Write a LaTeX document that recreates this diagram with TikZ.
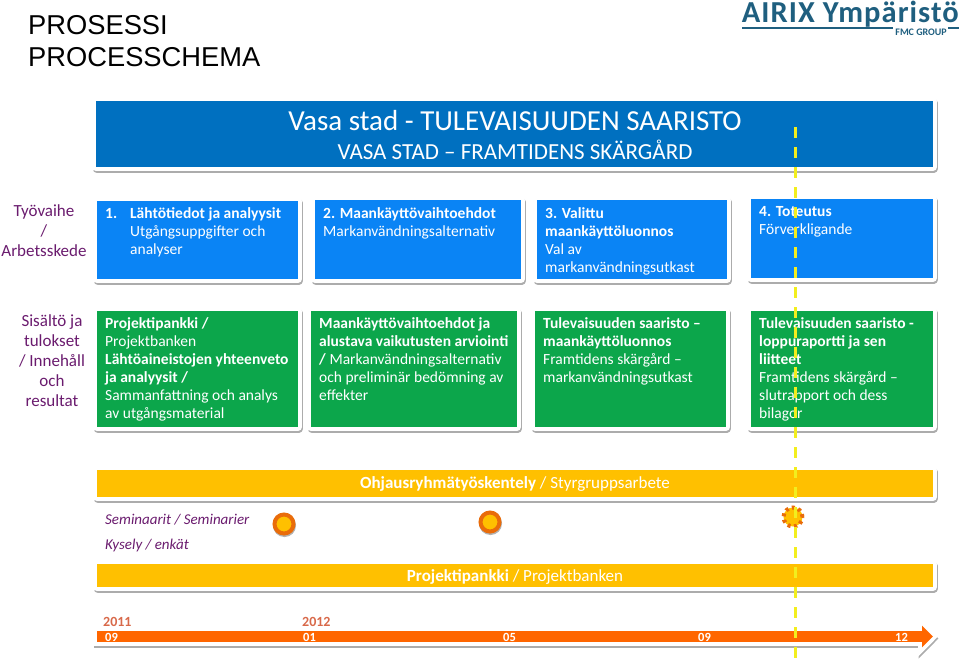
\documentclass[tikz,border=0pt]{standalone}
\usepackage{xcolor}
\usepackage{fontspec}
\setmainfont{Carlito}
\newfontfamily\headfont{Liberation Sans}
\usetikzlibrary{positioning, arrows.meta}
\definecolor{barblue}{HTML}{0070C0}
\definecolor{stepblue}{HTML}{0A84F5}
\definecolor{stepgreen}{HTML}{0CA64B}
\definecolor{baramber}{HTML}{FFC000}
\definecolor{timeorange}{HTML}{FF6600}
\definecolor{ringorange}{HTML}{E96C0A}
\definecolor{leftpurple}{HTML}{6A1B6E}
\definecolor{yearred}{HTML}{D8694A}
\definecolor{logoblue}{HTML}{1F5F7F}
\definecolor{nowyellow}{HTML}{F2EE1E}
\tikzset{x=1pt, y=-1pt,
         card/.style={fill=#1, anchor=north west, inner sep=0pt, outer sep=0pt,
                      preaction={draw=gray!65, line width=8pt, line join=round, transform canvas={shift={(.5pt,-2pt)}}},
                      preaction={draw=white, line width=8pt, line join=round}},
         cardtext/.style={anchor=north west, text=white, align=left, inner sep=0pt,
                      font=\fontsize{15.5}{18}\selectfont},
         sidetext/.style={text=leftpurple, align=center, font=\fontsize{17}{20}\selectfont},
         bartext/.style={text=white, font=\fontsize{17}{18}\selectfont},
         monthtext/.style={text=white, anchor=west, inner sep=0pt, font=\bfseries\fontsize{12.5}{12}\selectfont},
         yeartext/.style={text=yearred, anchor=west, inner sep=0pt, font=\bfseries\fontsize{14}{13}\selectfont},
         eventtext/.style={text=leftpurple, anchor=west, inner sep=0pt, font=\itshape\fontsize{15}{14}\selectfont},
         ring/.style={circle, draw=ringorange, fill=baramber, line width=4pt, minimum size=19pt, inner sep=0pt},
         ringshadow/.style={preaction={draw=gray!60, transform canvas={shift={(.5pt,-1.5pt)}}}},
         }
\begin{document}
\begin{tikzpicture}
    \useasboundingbox (0,0) rectangle (960,662);

    % otsikko
    \node[anchor=west, inner sep=0pt, align=left, font=\headfont\fontsize{27.3}{32}\selectfont] (title) at (28,41) {PROSESSI\\PROCESSCHEMA};

    % logo
    \node[anchor=east, inner sep=0pt, text=logoblue, font=\bfseries\fontsize{30.5}{30}\selectfont\addfontfeatures{LetterSpace=3.5}] (logo) at (959,14) {AIRIX Ympäristö};
    \node[anchor=east, inner sep=0pt, text=logoblue, font=\bfseries\fontsize{10}{10}\selectfont] (logosub) at (947,32) {FMC GROUP};
    \coordinate (logoa) at (742,28);
    \coordinate (logob) at (867,28);
    \coordinate (logoc) at (893,28);
    \coordinate (logod) at (948,28);
    \coordinate (logoe) at (959,28);
    \draw[logoblue, line width=2.5pt] (logoa) -- (logob);
    \draw[logoblue, line width=1.2pt] (logob) -- (logoc) (logod) -- (logoe);

    % paapalkki
    \node[card=barblue, minimum width=837pt, minimum height=66pt] (mainbar) at (96,101) {};
    \node[text=white, font=\fontsize{29}{29}\selectfont, inner sep=0pt] (maintitle) at (515,121) {Vasa stad - TULEVAISUUDEN SAARISTO};
    \node[text=white, font=\fontsize{23}{23}\selectfont, inner sep=0pt] (mainsub) at (515,150) {VASA STAD – FRAMTIDENS SKÄRGÅRD};

    % tyovaihe
    \node[sidetext] (vaihehead) at (44,231) {Työvaihe\\/\\Arbetsskede};
    \node[card=stepblue, minimum width=201pt, minimum height=78pt] (vaihe1) at (97,201) {};
    \node[card=stepblue, minimum width=206pt, minimum height=79pt] (vaihe2) at (315,200) {};
    \node[card=stepblue, minimum width=190pt, minimum height=79pt] (vaihe3) at (537,200) {};
    \node[card=stepblue, minimum width=182pt, minimum height=79pt] (vaihe4) at (751,199) {};
    \node[cardtext] (vaihe1t) at (105,207) {\textbf{1.\hspace{13pt}Lähtötiedot ja analyysit}\\\hspace*{25pt}Utgångsuppgifter och\\\hspace*{25pt}analyser};
    \node[cardtext] (vaihe2t) at (323,207) {\textbf{2. Maankäyttövaihtoehdot}\\Markanvändningsalternativ};
    \node[cardtext] (vaihe3t) at (545,207) {\textbf{3. Valittu}\\\textbf{maankäyttöluonnos}\\Val av\\markanvändningsutkast};
    \node[cardtext] (vaihe4t) at (759,206) {\textbf{4. Toteutus}\\Förverkligande};

    % sisalto
    \node[sidetext] (sisaltohead) at (52,361) {Sisältö ja\\tulokset\\/ Innehåll\\och\\resultat};
    \node[card=stepgreen, minimum width=201pt, minimum height=116pt] (sisalto1) at (97,311) {};
    \node[card=stepgreen, minimum width=206pt, minimum height=116pt] (sisalto2) at (311,311) {};
    \node[card=stepgreen, minimum width=191pt, minimum height=116pt] (sisalto3) at (535,311) {};
    \node[card=stepgreen, minimum width=182pt, minimum height=116pt] (sisalto4) at (751,311) {};
    \node[cardtext] (sisalto1t) at (105,317) {\textbf{Projektipankki /}\\Projektbanken\\\textbf{Lähtöaineistojen yhteenveto}\\\textbf{ja analyysit /}\\Sammanfattning och analys\\av utgångsmaterial};
    \node[cardtext] (sisalto2t) at (319,317) {\textbf{Maankäyttövaihtoehdot ja}\\\textbf{alustava vaikutusten arviointi}\\\textbf{/} Markanvändningsalternativ\\och preliminär bedömning av\\effekter};
    \node[cardtext] (sisalto3t) at (543,317) {\textbf{Tulevaisuuden saaristo –}\\\textbf{maankäyttöluonnos}\\Framtidens skärgård –\\markanvändningsutkast};
    \node[cardtext] (sisalto4t) at (759,317) {\textbf{Tulevaisuuden saaristo -}\\\textbf{loppuraportti ja sen}\\\textbf{liitteet}\\Framtidens skärgård –\\slutrapport och dess\\bilagor};

    % palkit
    \node[card=baramber, minimum width=836pt, minimum height=27pt] (ohjaus) at (97,470) {};
    \node[bartext] (ohjaust) at (515,483.5) {\textbf{Ohjausryhmätyöskentely} / Styrgruppsarbete};
    \node[eventtext] (seminaari) at (105,520) {Seminaarit / Seminarier};
    \node[eventtext] (kysely) at (105,545) {Kysely / enkät};
    \node[ring, ringshadow] (ring1) at (284,524) {};
    \node[ring, ringshadow] (ring2) at (490,522) {};
    \node[ring, dash pattern=on 3pt off 3.5pt] (ring3) at (793,517) {};
    \node[card=baramber, minimum width=836pt, minimum height=23pt] (pankki) at (97,564) {};
    \node[bartext] (pankkit) at (515,577) {\textbf{Projektipankki} / Projektbanken};

    % aikajana
    \coordinate (timea) at (97,636.5);
    \coordinate (timeb) at (933,636.5);
    \draw[gray!65, line width=19pt, shorten <=-4pt, shorten >=-5pt, -{Triangle[length=20pt, width=39pt]}, transform canvas={shift={(.5pt,-2pt)}}] (timea) -- (timeb);
    \draw[white, line width=19pt, shorten <=-4pt, shorten >=-5pt, -{Triangle[length=20pt, width=39pt]}] (timea) -- (timeb);
    \draw[timeorange, line width=11pt, -{Triangle[length=11pt, width=21pt]}] (timea) -- (timeb);
    \node[yeartext] (y2011) at (103,622) {2011};
    \node[yeartext] (y2012) at (302,622) {2012};
    \node[monthtext] (m1) at (105,637) {09};
    \node[monthtext] (m2) at (303,637) {01};
    \node[monthtext] (m3) at (503,637) {05};
    \node[monthtext] (m4) at (698,637) {09};
    \node[monthtext] (m5) at (895,637) {12};

    % nykyhetki
    \coordinate (nowa) at (795,127);
    \coordinate (nowb) at (795,662);
    \draw[nowyellow, line width=3pt, dash pattern=on 11pt off 9pt] (nowa) -- (nowb);
\end{tikzpicture}
\end{document}
